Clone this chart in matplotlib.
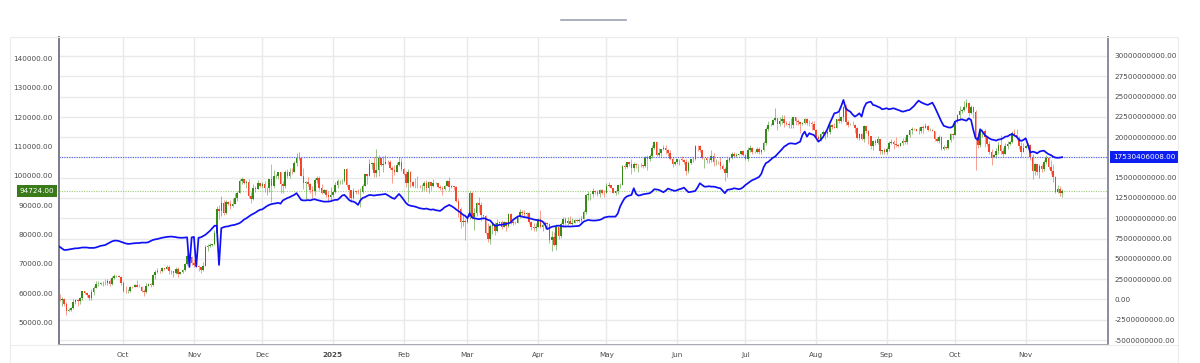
#-------------------------------------------------------------------------
# Imports
import matplotlib
matplotlib.use("Agg")

import matplotlib.pyplot     as plt
import matplotlib.dates      as mdates
import matplotlib.transforms as mtransforms
from   matplotlib.lines      import Line2D
from   matplotlib.patches    import Rectangle

import numpy  as np
import pandas as pd

#-------------------------------------------------------------------------



#-------------------------------------------------------------------------
# Data (prices in thousands, blue series in billions), daily from 2024-09-03

start_date = "2024-09-03"
first_open = 59.1

close_k = [
    # Sep 2024
    57.50, 57.97, 56.16, 53.95, 54.14, 54.84, 57.02, 57.65, 57.34, 58.13, 60.57, 60.00, 59.18, 58.21,
    60.31, 61.76, 62.95, 63.20, 63.35, 63.58, 63.34, 64.27, 63.14, 65.18, 65.79, 65.89, 65.63, 63.33,
    # Oct 2024
    60.84, 60.63, 60.76, 62.09, 62.06, 62.82, 62.22, 62.13, 60.58, 60.27, 62.44, 63.19, 62.85, 66.05, 67.04, 67.61,
    67.40, 68.42, 68.36, 69.00, 67.37, 67.38, 66.68, 68.16, 66.64, 67.01, 67.93, 69.90, 72.72, 72.34, 70.22,
    # Nov 2024
    69.48, 69.36, 68.72, 67.81, 69.36, 75.64, 75.90, 76.54, 76.68, 80.40, 88.70, 87.95, 90.58, 87.25, 91.07,
    90.56, 89.85, 90.46, 92.31, 94.29, 98.32, 98.89, 97.67, 97.90, 93.01, 91.94, 95.96, 95.65, 97.46, 96.41,
    # Dec 2024
    97.19, 95.84, 96.00, 98.77, 96.59, 99.92, 99.92, 101.17, 97.37, 96.68, 101.17, 100.04, 101.46, 101.37, 104.30, 106.03,
    106.14, 100.04, 97.49, 97.76, 97.22, 95.10, 94.69, 98.68, 99.43, 95.79, 94.30, 95.16, 93.53, 92.64, 93.43,
    # Jan 2025
    94.42, 96.89, 98.11, 98.24, 98.36, 102.24, 96.95, 95.04, 92.48, 94.70, 94.57, 94.49, 94.52, 96.53, 100.50, 99.99,
    104.08, 104.40, 101.09, 102.00, 106.15, 103.65, 103.96, 104.82, 104.71, 102.68, 102.09, 101.33, 103.73, 104.73, 102.41,
    # Feb 2025
    100.65, 97.69, 101.40, 97.87, 96.62, 96.56, 96.53, 96.48, 96.50, 97.40, 95.75, 97.87, 96.60, 97.50,
    97.57, 96.12, 95.77, 95.54, 96.63, 98.33, 96.13, 96.57, 96.28, 91.55, 88.74, 84.35, 84.70, 84.37,
    # Mar 2025
    86.03, 94.25, 86.12, 87.22, 90.62, 89.96, 86.74, 86.15, 80.60, 78.53, 82.86, 83.72, 81.07, 83.97, 84.34, 82.58,
    84.08, 82.72, 86.85, 84.17, 84.04, 83.83, 86.05, 87.50, 87.47, 86.90, 87.22, 84.35, 82.60, 82.34, 82.55,
    # Apr 2025
    85.17, 82.48, 83.10, 83.86, 83.50, 78.21, 79.23, 76.27, 82.57, 79.63, 83.40, 85.29, 83.74, 84.54, 83.67,
    84.03, 84.90, 84.45, 85.06, 85.17, 87.52, 93.44, 93.69, 93.94, 94.72, 94.65, 93.75, 95.04, 94.26, 94.17,
    # May 2025
    96.49, 96.89, 95.88, 94.31, 94.75, 96.83, 97.03, 103.24, 102.97, 104.70, 104.15, 102.81, 104.17, 103.54, 103.74, 103.56,
    103.22, 106.45, 105.61, 106.79, 109.67, 111.70, 107.29, 107.79, 109.03, 109.44, 108.99, 107.80, 105.64, 103.99, 104.64,
    # Jun 2025
    105.65, 105.88, 105.43, 104.73, 101.58, 104.39, 105.62, 105.79, 110.29, 110.26, 108.69, 105.93, 106.09, 105.47, 105.55,
    106.79, 104.60, 104.88, 104.64, 103.30, 102.24, 100.96, 105.58, 106.04, 107.34, 106.95, 107.05, 107.30, 108.38, 107.14,
    # Jul 2025
    105.70, 108.85, 109.60, 108.00, 108.23, 109.20, 108.26, 108.95, 111.33, 115.99, 117.52, 117.44, 119.12, 119.84, 117.68, 118.77,
    119.29, 117.93, 117.86, 117.28, 117.44, 120.00, 118.76, 118.34, 117.64, 117.95, 119.45, 118.06, 117.90, 117.84, 115.76,
    # Aug 2025
    113.30, 112.57, 114.22, 115.07, 114.14, 115.04, 117.50, 116.69, 116.50, 119.31, 118.73, 120.17, 123.34, 118.36, 117.40, 117.49,
    117.45, 116.25, 112.87, 114.27, 112.50, 116.93, 115.44, 113.49, 110.11, 111.80, 111.26, 112.56, 108.40, 108.81, 108.24,
    # Sep 2025
    109.25, 111.20, 111.70, 110.72, 110.65, 110.20, 111.14, 112.07, 111.53, 113.96, 115.50, 116.10, 115.95, 115.40, 115.40,
    116.79, 116.47, 117.14, 115.69, 115.72, 115.30, 112.75, 112.03, 113.33, 109.05, 109.70, 109.68, 112.12, 114.40, 114.06,
    # Oct 2025
    118.65, 120.65, 122.27, 122.40, 123.51, 124.75, 121.45, 123.35, 121.69, 113.21, 110.70, 115.17, 115.27, 113.12, 110.76, 108.19,
    106.47, 107.20, 108.64, 110.59, 108.48, 107.57, 110.05, 111.04, 111.65, 114.56, 114.12, 112.94, 110.05, 108.31, 109.61,
    # Nov 2025
    110.10, 110.64, 106.55, 101.50, 103.88, 101.30, 103.34, 102.28, 104.72, 105.98, 103.06, 101.65, 99.69, 94.59, 95.55, 94.20, 94.724,
]

high_k = [
    59.8, 58.5, 58.3, 56.9, 54.8, 55.3, 58.0, 58.0, 58.0, 58.6, 60.7, 60.6, 60.4, 59.6,
    61.3, 62.3, 64.1, 64.0, 63.6, 64.1, 64.8, 64.8, 64.7, 65.8, 66.5, 66.3, 66.1, 65.8,
    64.1, 62.4, 61.5, 62.5, 62.4, 63.0, 64.4, 63.2, 62.5, 61.3, 63.4, 63.4, 63.3, 66.5, 67.9, 68.4,
    68.0, 68.9, 68.7, 69.4, 69.5, 67.8, 67.4, 68.8, 68.8, 67.3, 68.2, 70.2, 73.6, 72.9, 72.7,
    71.6, 70.0, 69.4, 69.0, 70.5, 76.4, 76.9, 77.2, 76.9, 81.5, 89.6, 89.9, 93.2, 91.8, 91.8,
    91.4, 91.7, 92.6, 94.0, 94.9, 98.9, 99.6, 98.8, 98.6, 98.9, 94.5, 97.2, 96.7, 98.7, 97.7,
    97.9, 98.2, 96.3, 99.0, 103.9, 101.9, 100.5, 101.4, 101.2, 98.3, 101.9, 102.5, 102.6, 102.6, 105.2, 107.8,
    108.3, 106.5, 102.8, 98.1, 99.5, 97.4, 96.4, 99.4, 99.9, 99.9, 97.3, 95.4, 95.2, 94.9, 96.1,
    94.9, 97.8, 98.9, 98.7, 98.8, 102.5, 102.7, 97.2, 95.3, 95.8, 95.0, 95.4, 95.8, 97.3, 100.7, 100.8,
    105.9, 104.9, 106.3, 109.1, 107.1, 106.3, 106.9, 107.0, 105.3, 105.5, 103.3, 103.8, 104.8, 106.5, 106.0,
    102.8, 101.5, 102.5, 101.7, 98.3, 99.2, 100.1, 96.9, 97.3, 98.3, 98.5, 98.1, 97.9, 98.8,
    97.9, 97.7, 97.0, 96.6, 97.0, 98.7, 99.5, 96.9, 96.7, 96.5, 92.5, 89.2, 87.0, 85.1,
    86.5, 95.0, 94.4, 88.9, 91.0, 92.8, 91.2, 86.8, 86.5, 83.9, 83.6, 84.3, 84.3, 85.3, 84.7, 85.0,
    84.7, 84.1, 87.4, 87.4, 85.0, 84.5, 86.1, 88.7, 88.5, 88.3, 87.8, 87.5, 84.6, 83.9, 84.0,
    85.5, 88.5, 83.9, 84.7, 84.2, 83.8, 81.1, 80.8, 83.5, 82.7, 84.3, 85.8, 86.0, 85.8, 86.4,
    85.5, 85.4, 85.2, 85.6, 86.4, 88.4, 93.8, 94.7, 94.0, 95.8, 95.3, 95.2, 95.6, 95.5, 95.2,
    97.4, 97.9, 96.9, 96.0, 95.2, 97.0, 97.6, 103.8, 104.3, 104.9, 104.9, 105.7, 104.9, 104.3, 104.0, 104.5,
    103.7, 106.7, 107.1, 107.3, 110.5, 112.0, 111.9, 109.5, 109.3, 110.4, 110.7, 109.3, 108.9, 106.3, 105.0,
    105.9, 105.9, 106.8, 105.9, 105.9, 105.0, 105.9, 106.5, 110.6, 110.4, 110.4, 108.8, 106.2, 106.2, 106.1,
    108.9, 107.8, 105.6, 105.2, 106.5, 103.9, 103.0, 106.1, 106.3, 108.0, 108.0, 107.8, 107.6, 108.5, 108.8,
    107.5, 109.7, 110.6, 109.8, 108.4, 109.7, 109.7, 109.2, 111.9, 116.8, 118.9, 118.2, 119.5, 123.2, 119.9, 120.1,
    120.9, 120.9, 118.9, 118.9, 119.7, 120.2, 120.0, 119.5, 118.5, 118.3, 119.8, 119.8, 119.2, 118.8, 118.9,
    116.1, 114.0, 114.7, 115.7, 115.1, 115.7, 117.7, 117.6, 117.9, 119.5, 122.3, 120.3, 123.7, 124.4, 119.2, 117.9,
    118.6, 117.6, 116.8, 114.6, 114.5, 117.4, 117.0, 115.6, 113.6, 112.3, 112.6, 113.5, 112.7, 108.9, 109.5,
    109.9, 111.8, 112.6, 112.2, 113.4, 111.0, 111.3, 112.9, 113.2, 114.3, 115.8, 116.6, 116.3, 116.0, 116.8,
    117.0, 117.3, 117.9, 117.5, 116.2, 116.0, 115.4, 113.3, 113.9, 113.5, 110.4, 110.0, 112.4, 114.5, 114.8,
    118.7, 121.0, 123.9, 122.9, 125.7, 126.2, 125.1, 124.2, 123.8, 122.6, 113.3, 115.7, 116.0, 115.9, 113.6, 111.8,
    109.0, 107.6, 109.5, 111.7, 114.0, 109.6, 111.2, 112.0, 111.9, 115.4, 116.1, 116.0, 113.6, 111.5, 111.2,
    110.6, 111.2, 110.8, 107.3, 104.5, 104.2, 104.0, 103.9, 105.5, 107.0, 106.6, 105.3, 104.1, 99.9, 96.8, 96.6, 95.6,
]

low_k = [
    57.2, 55.6, 55.7, 52.55, 53.7, 53.7, 54.6, 56.4, 55.5, 56.3, 57.7, 59.5, 58.7, 57.5,
    57.6, 59.2, 61.6, 62.4, 62.8, 62.4, 62.7, 62.7, 62.5, 62.7, 64.8, 65.4, 65.4, 62.9,
    60.2, 59.9, 59.9, 60.5, 61.7, 61.9, 62.1, 61.9, 60.3, 58.9, 60.1, 62.4, 62.0, 62.4, 64.8, 66.7,
    66.8, 67.1, 68.0, 68.1, 66.6, 66.6, 65.3, 66.5, 65.5, 66.5, 66.8, 67.5, 69.7, 71.4, 69.7,
    68.8, 69.0, 67.5, 66.8, 67.5, 69.3, 74.4, 75.6, 75.9, 76.5, 80.2, 85.2, 86.3, 86.7, 87.1,
    90.1, 88.8, 89.4, 90.4, 91.5, 94.1, 97.2, 97.2, 95.8, 92.6, 90.8, 91.8, 94.6, 95.4, 96.1,
    95.7, 94.4, 93.6, 94.6, 91.0, 95.9, 99.1, 98.8, 94.3, 94.3, 95.7, 99.3, 99.2, 100.6, 101.2, 103.3,
    105.3, 100.0, 95.6, 92.2, 96.4, 94.2, 92.4, 93.4, 97.6, 95.2, 93.8, 94.0, 92.9, 91.3, 91.9,
    92.8, 94.2, 96.0, 97.3, 97.2, 97.9, 96.1, 92.5, 91.2, 92.2, 93.8, 93.7, 89.2, 94.3, 96.5, 97.3,
    99.9, 102.3, 99.5, 99.5, 100.1, 103.3, 101.2, 103.9, 104.1, 102.5, 97.7, 100.3, 101.3, 103.3, 101.6,
    100.3, 96.2, 91.2, 96.2, 96.2, 95.7, 95.7, 95.7, 94.7, 95.3, 94.9, 94.1, 95.2, 96.3,
    97.2, 96.0, 95.2, 93.4, 95.2, 96.4, 94.9, 95.8, 95.2, 91.2, 86.1, 82.3, 82.8, 78.2,
    83.9, 85.1, 85.1, 81.5, 86.3, 87.8, 84.7, 85.3, 80.3, 77.5, 76.6, 80.0, 79.9, 80.8, 83.6, 82.0,
    82.5, 81.2, 82.5, 83.7, 83.2, 83.7, 83.8, 85.6, 86.3, 85.9, 85.8, 83.6, 81.6, 81.3, 81.3,
    82.4, 82.3, 81.2, 81.7, 82.4, 77.2, 74.4, 76.2, 74.6, 78.5, 78.9, 82.7, 83.0, 83.2, 83.6,
    83.1, 83.9, 84.3, 84.3, 83.9, 85.1, 87.0, 91.9, 91.7, 92.9, 93.9, 93.1, 92.9, 93.7, 92.9,
    94.1, 96.3, 95.7, 94.0, 93.5, 93.7, 95.8, 96.9, 102.3, 102.8, 103.2, 100.8, 101.6, 102.6, 101.4, 103.1,
    102.6, 103.1, 102.1, 105.0, 106.2, 109.3, 106.7, 106.5, 106.9, 108.7, 107.6, 106.8, 105.3, 103.1, 103.6,
    103.9, 103.7, 105.1, 104.2, 100.4, 101.1, 104.2, 104.9, 105.3, 108.4, 108.1, 105.7, 102.7, 104.3, 104.5,
    104.9, 103.4, 103.6, 103.9, 102.4, 101.9, 98.3, 99.6, 104.7, 105.9, 106.5, 106.5, 107.0, 107.2, 106.8,
    105.3, 105.1, 108.2, 107.3, 107.8, 107.8, 107.5, 107.4, 108.4, 110.6, 115.2, 116.9, 117.3, 118.9, 115.7, 117.0,
    117.8, 116.8, 117.2, 116.5, 116.4, 116.2, 117.3, 117.4, 114.7, 117.2, 117.8, 117.5, 116.9, 115.8, 115.5,
    112.7, 112.0, 111.9, 114.1, 112.7, 113.4, 114.3, 115.9, 116.3, 116.4, 118.1, 118.2, 118.9, 117.2, 116.8, 117.2,
    117.3, 114.7, 112.7, 112.4, 112.3, 111.7, 114.7, 110.9, 109.3, 108.7, 110.4, 110.9, 107.5, 107.4, 107.3,
    107.3, 108.4, 110.8, 109.3, 110.0, 109.8, 110.2, 110.6, 110.8, 110.9, 113.4, 114.3, 115.5, 115.3, 114.4,
    114.8, 114.8, 116.2, 115.4, 115.4, 115.2, 111.9, 111.5, 111.2, 108.7, 108.7, 109.3, 109.3, 111.6, 112.7,
    113.9, 118.2, 119.3, 121.6, 122.1, 123.1, 120.6, 121.0, 119.7, 102.0, 109.6, 109.7, 113.1, 109.9, 110.3, 107.5,
    103.6, 106.3, 106.2, 107.5, 107.5, 106.8, 107.4, 109.3, 110.7, 111.3, 113.9, 112.3, 109.3, 106.3, 108.0,
    109.4, 109.4, 105.3, 98.9, 100.3, 100.3, 99.3, 101.4, 101.5, 104.2, 102.5, 100.8, 98.0, 94.0, 94.1, 93.0, 92.9,
]

blue_bn = [
    6.5, 6.3, 6.1, 6.1, 6.15, 6.2, 6.25, 6.3, 6.3, 6.35, 6.4, 6.4, 6.4, 6.35,
    6.35, 6.35, 6.4, 6.5, 6.6, 6.65, 6.7, 6.85, 7.0, 7.15, 7.24, 7.25, 7.2, 7.1,
    7.0, 6.9, 6.85, 6.85, 6.9, 6.93, 6.95, 6.95, 7.0, 7.0, 7.0, 7.05, 7.2, 7.33, 7.4, 7.45,
    7.53, 7.6, 7.65, 7.7, 7.73, 7.75, 7.72, 7.68, 7.62, 7.6, 7.6, 7.62, 7.65, 4.0, 7.65,
    7.7, 4.05, 7.6, 7.65, 7.8, 7.96, 8.2, 8.45, 8.75, 9.07, 9.1, 4.24, 8.78, 8.9, 8.98,
    9.0, 9.1, 9.15, 9.2, 9.3, 9.4, 9.6, 9.85, 10.0, 10.2, 10.4, 10.55, 10.7, 10.9, 11.05,
    11.1, 11.3, 11.5, 11.65, 11.75, 11.8, 11.86, 11.9, 11.8, 12.2, 12.35, 12.5, 12.6, 12.75, 12.88, 13.1,
    12.7, 12.27, 12.2, 12.2, 12.25, 12.2, 12.3, 12.35, 12.25, 12.18, 12.1, 12.05, 12.06, 12.06, 12.1,
    12.2, 12.27, 12.27, 12.5, 12.8, 12.88, 12.6, 12.27, 12.1, 12.06, 11.9, 11.65, 12.2, 12.5, 12.6, 12.75,
    12.88, 12.85, 12.8, 12.85, 12.88, 12.9, 12.95, 13.0, 12.85, 12.67, 12.5, 12.4, 12.7, 13.0, 12.67,
    12.3, 11.9, 11.65, 11.55, 11.5, 11.44, 11.35, 11.24, 11.2, 11.15, 11.2, 11.11, 11.05, 11.1,
    11.0, 10.95, 10.91, 11.1, 11.36, 11.5, 11.65, 11.5, 11.33, 11.1, 10.9, 10.7, 10.45, 10.3,
    10.0, 10.63, 10.1, 10.0, 9.95, 9.89, 9.95, 10.0, 9.95, 9.8, 9.72, 9.4, 9.07, 9.1, 9.19, 9.2,
    9.27, 9.3, 9.4, 9.47, 9.8, 10.0, 10.2, 10.3, 10.2, 10.14, 10.1, 10.0, 9.95, 9.85, 9.8,
    9.75, 9.72, 9.6, 9.27, 8.66, 8.8, 8.95, 9.0, 9.05, 9.1, 9.05, 9.0, 8.98, 9.0, 8.98,
    9.0, 9.02, 9.05, 9.06, 9.3, 9.59, 9.7, 9.8, 9.75, 9.72, 9.72, 9.75, 9.8, 9.9, 10.09,
    10.15, 10.21, 10.2, 10.21, 10.21, 10.6, 11.44, 12.0, 12.47, 12.7, 12.8, 12.88, 13.7, 13.0, 12.8, 12.85,
    12.95, 13.0, 13.05, 13.09, 13.3, 13.58, 13.55, 13.5, 13.35, 13.21, 13.4, 13.66, 13.55, 13.45, 13.38,
    13.45, 13.58, 13.65, 13.78, 13.5, 13.21, 13.25, 13.3, 13.38, 13.8, 14.32, 14.1, 13.9, 13.9, 13.95,
    13.9, 13.9, 13.85, 13.75, 13.7, 13.4, 13.09, 13.5, 13.55, 13.6, 13.7, 13.65, 13.58, 13.65, 13.83,
    14.1, 14.3, 14.52, 14.7, 14.81, 14.95, 15.1, 15.5, 16.3, 16.8, 16.95, 17.2, 17.45, 17.6, 17.9, 18.2,
    18.5, 18.83, 19.0, 19.2, 19.24, 19.2, 19.16, 19.3, 19.44, 20.27, 20.68, 20.06, 20.48, 20.35, 20.27,
    19.9, 19.44, 19.66, 20.0, 20.48, 21.0, 21.71, 22.3, 22.94, 23.0, 23.14, 23.8, 24.58, 23.56, 23.3, 23.14,
    22.8, 22.53, 22.7, 22.94, 22.53, 23.6, 24.17, 24.3, 24.37, 23.97, 23.9, 23.76, 23.65, 23.43, 23.5,
    23.56, 23.43, 23.5, 23.56, 23.45, 23.35, 23.25, 23.14, 23.2, 23.3, 23.35, 23.6, 23.84, 24.2, 24.5,
    24.3, 24.17, 24.05, 23.97, 24.1, 24.25, 23.76, 23.14, 22.5, 21.91, 21.4, 21.3, 21.2, 21.17, 21.3,
    21.91, 22.05, 22.12, 22.2, 22.1, 22.03, 22.32, 22.12, 20.89, 19.86, 19.66, 20.97, 20.68, 20.27, 20.05, 19.86,
    19.7, 19.66, 19.57, 19.7, 19.74, 19.86, 20.06, 20.1, 20.27, 20.39, 20.2, 20.06, 19.7, 19.53, 19.66,
    19.86, 19.04, 18.1, 18.21, 18.15, 18.0, 18.21, 18.3, 18.33, 18.1, 17.9, 17.8, 17.6, 17.48, 17.45, 17.48, 17.53,
]

last_price = 94724.00
last_blue  = 17530406008.00

month_starts = ["2024-10-01", "2024-11-01", "2024-12-01", "2025-01-01", "2025-02-01", "2025-03-01", "2025-04-01",
                "2025-05-01", "2025-06-01", "2025-07-01", "2025-08-01", "2025-09-01", "2025-10-01", "2025-11-01"]
month_labels = ["Oct", "Nov", "Dec", "2025", "Feb", "Mar", "Apr", "May", "Jun", "Jul", "Aug", "Sep", "Oct", "Nov"]

price_ticks = [50000, 60000, 70000, 80000, 90000, 100000, 110000, 120000, 130000, 140000]
blue_ticks  = [-5.0e9, -2.5e9, 0.0, 2.5e9, 5.0e9, 7.5e9, 10.0e9, 12.5e9, 15.0e9, 17.5e9,
               20.0e9, 22.5e9, 25.0e9, 27.5e9, 30.0e9]

#-------------------------------------------------------------------------



#-------------------------------------------------------------------------
# Plot parameters

W, H = 1200, 363
ax_left, ax_right, ax_top, ax_bottom = 59, 1108, 37, 345   # pixels

up_color   = "#368a16"
down_color = "#f4442a"
blue_color = "#1010f4"
grid_color = "#e8e9ea"
text_color = "#4a4a4a"
fsize      = 5.2

#-------------------------------------------------------------------------



#-------------------------------------------------------------------------
# Derived arrays

dates  = pd.date_range(start_date, periods=len(close_k), freq="D")
x      = mdates.date2num(dates)
close  = np.array(close_k) * 1000.0
open_  = np.array([first_open] + close_k[:-1]) * 1000.0
high   = np.array(high_k) * 1000.0
low    = np.array(low_k) * 1000.0
blue   = np.array(blue_bn) * 1e9

is_up  = close >= open_
colors = np.where(is_up, up_color, down_color)
body_b = np.minimum(open_, close)
body_h = np.maximum(np.abs(close - open_), 60.0)

#-------------------------------------------------------------------------



#-------------------------------------------------------------------------
# Figure

fig = plt.figure(figsize=(W / 100, H / 100), dpi=100)
ax  = fig.add_axes([ax_left / W, 1 - ax_bottom / H, (ax_right - ax_left) / W, (ax_bottom - ax_top) / H])
ax2 = ax.twinx()

ax.set_xlim(x[0] - 0.22, x[0] + 460.1)
ax.set_ylim(42250, 147410)
ax2.set_ylim(-5.616e9, 32.34e9)

# grid: horizontal lines follow the right axis, vertical lines at month starts
hz_trans = mtransforms.blended_transform_factory(ax.transAxes, ax2.transData)
for v in blue_ticks:
    ax.plot([0, 1], [v, v], transform=hz_trans, color=grid_color, lw=1.0, zorder=0)
for m in month_starts:
    ax.axvline(mdates.date2num(pd.Timestamp(m)), color=grid_color, lw=1.0, zorder=0)

# candles
ax.vlines(x, low, high, colors=colors, lw=0.6, alpha=0.6, zorder=2)
ax.bar(x, body_h, bottom=body_b, width=0.7, color=colors, lw=0, zorder=3)

# last price line and label
ax.axhline(last_price, color="#9ccc78", lw=0.8, ls=(0, (1, 1.2)), zorder=1)
lp_trans = mtransforms.blended_transform_factory(ax.transAxes, ax.transData)
ax.text(-0.0045, last_price, f"{last_price:.2f}", transform=lp_trans, ha="right", va="center",
        fontsize=fsize, color="white", clip_on=False, zorder=10,
        bbox=dict(boxstyle="square,pad=0.4", fc="#3a7a18", ec="none"))

# blue series on right axis
ax2.plot(x, blue, color=blue_color, lw=1.25, zorder=5)
ax2.axhline(last_blue, color="#5262ee", lw=0.8, ls=(0, (1, 1.2)), zorder=4)
lb_trans = mtransforms.blended_transform_factory(ax2.transAxes, ax2.transData)
ax2.text(1.0045, last_blue, f"{last_blue:.2f}", transform=lb_trans, ha="left", va="center",
         fontsize=fsize, color="white", clip_on=False, zorder=10,
         bbox=dict(boxstyle="square,pad=0.4", fc="#0d1ef0", ec="none"))

# ticks and labels
ax.set_yticks(price_ticks)
ax.set_yticklabels([f"{v:.2f}" for v in price_ticks])
ax2.set_yticks(blue_ticks)
ax2.set_yticklabels([f"{v:.2f}" for v in blue_ticks])
ax.set_xticks([mdates.date2num(pd.Timestamp(m)) for m in month_starts])
ax.set_xticklabels(month_labels)
for lab in ax.get_xticklabels():
    if lab.get_text() == "2025":
        lab.set_fontweight("bold")
        lab.set_color("#222222")

ax.tick_params(axis="both", length=0, labelsize=fsize, colors=text_color)
ax.tick_params(axis="y", pad=4.5)
ax.tick_params(axis="x", pad=5)
ax2.tick_params(axis="y", length=0, labelsize=fsize, colors=text_color, pad=4.5)

for a in (ax, ax2):
    a.spines["top"].set_visible(False)
    a.spines["left"].set_color("#7c7e8e")
    a.spines["left"].set_linewidth(1.3)
    a.spines["right"].set_color("#8a8c9c")
    a.spines["right"].set_linewidth(1.2)
    a.spines["bottom"].set_color("#a6a8b0")
    a.spines["bottom"].set_linewidth(1.3)

# outer frame and small header line
fig.add_artist(Rectangle((10 / W, 0), (1178 - 10) / W, (H - ax_top) / H, transform=fig.transFigure,
                         fill=False, ec="#ececec", lw=0.8))
fig.add_artist(Line2D([10 / W, 1178 / W], [1 - ax_bottom / H] * 2, transform=fig.transFigure,
                      color="#ececec", lw=0.8))
fig.add_artist(Line2D([561 / W, 626 / W], [1 - 20 / H] * 2, transform=fig.transFigure,
                      color="#9aa3b3", lw=1.2))

#-------------------------------------------------------------------------



#-------------------------------------------------------------------------
# Saving Plot

fig.savefig("out.png", dpi=100)

#-------------------------------------------------------------------------
